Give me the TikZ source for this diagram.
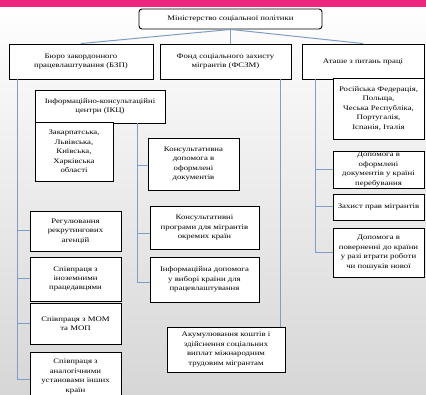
\documentclass[tikz,border=0pt]{standalone}
\usepackage{fontspec}
\setmainfont{Liberation Serif}[FakeStretch=1.25]
\definecolor{barpink}{HTML}{F0257D}
\definecolor{conncol}{HTML}{7F9DC6}
\begin{document}
\begin{tikzpicture}[x=1pt,y=-1pt,
  box/.style={draw=black, line width=0.9pt, fill=white, inner sep=1pt, align=center,
    font=\fontsize{7}{9.4}\selectfont},
  conn/.style={draw=conncol, line width=1pt}]
\useasboundingbox (0,0) rectangle (426,395);
\clip (0,0) rectangle (426,395);
\shade[top color=white, bottom color=black!16] (0,0) rectangle (426,395);
\fill[barpink] (0,0) rectangle (426,7);
% boxes
\node[box, rounded corners=3pt, minimum width=183pt, minimum height=20pt] (top) at (230.5,19) {Міністерство соціальної політики};
\node[box, minimum width=144pt, minimum height=35pt] (bzp) at (81,61.5) {Бюро закордонного\\працевлаштування (БЗП)};
\node[box, minimum width=131pt, minimum height=35pt] (fszm) at (225.5,61.5) {Фонд соціального захисту\\мігрантів (ФСЗМ)};
\node[box, minimum width=122pt, minimum height=35pt] (atashe) at (363,61.5) {Аташе з питань праці};
\node[box, minimum width=130pt, minimum height=33pt] (ikc) at (100,106.5) {Інформаційно-консультаційні\\центри (ІКЦ)};
\node[box, minimum width=78pt, minimum height=59pt] (obl) at (74,151.5) {Закарпатська,\\Львівська,\\Київська,\\Харківська\\області};
\node[box, minimum width=91pt, minimum height=52pt] (kdop) at (193.5,164) {Консультативна\\допомога в\\оформлені\\документів};
\node[box, minimum width=109pt, minimum height=43pt] (kprog) at (204.5,227.5) {Консультативні\\програми для мігрантів\\окремих країн};
\node[box, minimum width=109pt, minimum height=45pt] (idop) at (204.5,279.5) {Інформаційна допомога\\у виборі країни для\\працевлаштування};
\node[box, minimum width=91pt, minimum height=40pt] (reg) at (75.5,231) {Регулювання\\рекрутингових\\агенцій};
\node[box, minimum width=91pt, minimum height=44pt] (spiv) at (75.5,279) {Співпраця з\\іноземними\\працедавцями};
\node[box, minimum width=91pt, minimum height=41pt] (mom) at (75.5,323.5) {Співпраця з МОМ\\та МОП};
\node[box, minimum width=91pt, minimum height=48pt] (anal) at (75.5,376.5) {Співпраця з\\аналогічними\\установами інших\\країн};
\node[box, minimum width=118pt, minimum height=45pt] (akum) at (226,349.5) {Акумулювання коштів і\\здійснення соціальних\\виплат міжнародним\\трудовим мігрантам};
\node[box, minimum width=91pt, minimum height=61pt] (ros) at (378.5,108.5) {Російська Федерація,\\Польща,\\Чеська Республіка,\\Португалія,\\Іспанія, Італія};
\node[box, minimum width=91pt, minimum height=37pt] (dopof) at (378.5,169.5) {Допомога в\\оформлені\\документів у країні\\перебування};
\node[box, minimum width=91pt, minimum height=26pt] (zah) at (378.5,207) {Захист прав мігрантів};
\node[box, minimum width=91pt, minimum height=49pt] (povern) at (378.5,252.5) {Допомога в\\поверненні до країни\\у разі втрати роботи\\чи пошуків нової};
% connectors
\draw[conn] (top.south) -- (bzp.north);
\draw[conn] (top.south) -- (fszm.north -| top.south);
\draw[conn] (top.south) -- (atashe.north);
\coordinate (bl) at ([xshift=9pt]bzp.south west);
\draw[conn] (bl) |- ([yshift=-3pt]anal.west);
\draw[conn] (bl) |- (reg.west);
\draw[conn] (bl) |- (spiv.west);
\draw[conn] (bl) |- (mom.west);
\coordinate (il) at ([xshift=103pt]ikc.south west);
\draw[conn] (il) |- ([yshift=-2pt]kdop.west);
\draw[conn] (il) |- ([yshift=-6pt]kprog.west);
\draw[conn] (il) |- ([yshift=-3pt]idop.west);
\coordinate (fl) at ([xshift=-5pt]akum.north east);
\draw[conn] (fl |- fszm.south) -- (fl);
\coordinate (al) at ([xshift=14pt]atashe.south west);
\draw[conn] (al) |- (dopof.west);
\draw[conn] (al) |- (zah.west);
\draw[conn] (al) |- (povern.west);
\end{tikzpicture}
\end{document}
